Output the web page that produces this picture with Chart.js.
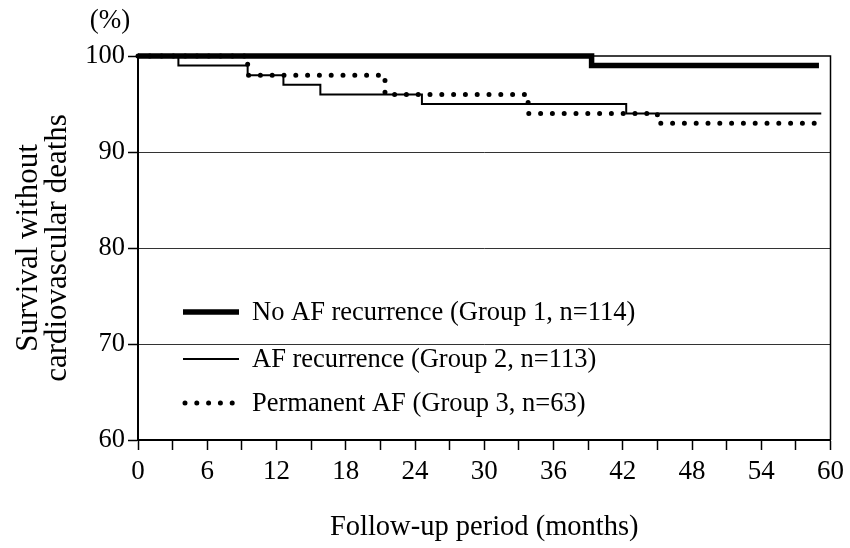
<!DOCTYPE html>
<html>
<head>
<meta charset="utf-8">
<script src="https://cdn.jsdelivr.net/npm/chart.js@4.4.1/dist/chart.umd.min.js"></script>
<style>
  html, body { margin: 0; padding: 0; background: #fff; }
  #wrap { width: 850px; height: 548px; }
</style>
</head>
<body>
<div id="wrap"><canvas id="survivalChart" width="850" height="548"></canvas></div>
<script>
// Kaplan-Meier style curves (months, % survival)
const groupLabels = [
  'No AF recurrence (Group 1, n=114)',
  'AF recurrence (Group 2, n=113)',
  'Permanent AF (Group 3, n=63)'
];
const group1Months = [0, 39.3, 59.0];
const group1Surv = [100, 99, 99];
const group2Months = [0, 3.5, 9.5, 12.6, 15.8, 24.6, 42.3, 59.2];
const group2Surv = [100, 99, 98, 97, 96, 95, 94, 94];
const group3Months = [0, 9.5, 21.4, 33.8, 45.0, 59.0];
const group3Surv = [100, 98, 96, 94, 93, 93];

const yTicks = [60, 70, 80, 90, 100];
const xTickStep = 3;
const xLabelStep = 6;

const SERIF = '"Liberation Serif", "DejaVu Serif", serif';

const toPoints = (xs, ys) => xs.map((x, i) => ({ x, y: ys[i] }));

const lineStyles = [
  { borderWidth: 5.5, borderDash: [], borderCapStyle: 'butt' },
  { borderWidth: 2, borderDash: [], borderCapStyle: 'butt' },
  { borderWidth: 5, borderDash: [0, 11.8], borderCapStyle: 'round' }
];

const datasets = [
  toPoints(group1Months, group1Surv),
  toPoints(group2Months, group2Surv),
  toPoints(group3Months, group3Surv)
].map((data, i) => ({
  label: groupLabels[i],
  data,
  borderColor: '#000',
  stepped: 'before',
  pointRadius: 0,
  tension: 0,
  fill: false,
  clip: 8,
  ...lineStyles[i]
}));

// frame on top/right, "(%)" marker and the in-plot legend
const decorPlugin = {
  id: 'decor',
  afterDatasetsDraw(chart) {
    const { ctx, chartArea: a } = chart;
    ctx.save();
    ctx.strokeStyle = '#000';
    ctx.lineWidth = 1.5;
    ctx.beginPath();
    ctx.moveTo(a.left, a.top);
    ctx.lineTo(a.right, a.top);
    ctx.lineTo(a.right, a.bottom);
    ctx.stroke();

    ctx.fillStyle = '#000';
    ctx.font = '27px ' + SERIF;
    ctx.textAlign = 'center';
    ctx.textBaseline = 'middle';
    ctx.fillText('(%)', 110, 21);

    const rows = [312, 359, 403];
    ctx.textAlign = 'left';
    ctx.font = '26.5px ' + SERIF;
    chart.data.datasets.forEach((ds, i) => {
      const y = rows[i];
      ctx.lineWidth = ds.borderWidth;
      ctx.setLineDash(ds.borderDash || []);
      ctx.lineCap = ds.borderCapStyle || 'butt';
      ctx.beginPath();
      ctx.moveTo(i === 2 ? 185 : 183, y);
      ctx.lineTo(239, y);
      ctx.stroke();
      ctx.setLineDash([]);
      ctx.fillText(ds.label, 252, y + 1);
    });
    ctx.restore();
  }
};

new Chart(document.getElementById('survivalChart'), {
  type: 'line',
  data: { datasets },
  plugins: [decorPlugin],
  options: {
    responsive: false,
    animation: false,
    layout: { padding: { left: 0, right: 19, top: 56, bottom: 0 } },
    plugins: { legend: { display: false }, tooltip: { enabled: false } },
    scales: {
      x: {
        type: 'linear',
        min: 0,
        max: 60,
        afterFit(scale) { scale.height = 108; },
        border: { display: true, color: '#000', width: 2 },
        grid: { drawOnChartArea: false, tickLength: 10, tickColor: '#000', tickWidth: 1.5 },
        ticks: {
          stepSize: xTickStep,
          autoSkip: false,
          maxRotation: 0,
          color: '#000',
          padding: 6,
          font: { family: SERIF, size: 27 },
          callback: v => (v % xLabelStep === 0 ? v : '')
        },
        title: {
          display: true,
          text: 'Follow-up period (months)',
          color: '#000',
          font: { family: SERIF, size: 28.5 },
          padding: { top: 0, bottom: 3 }
        }
      },
      y: {
        min: yTicks[0],
        max: yTicks[yTicks.length - 1],
        afterFit(scale) { scale.width = 138; },
        afterBuildTicks(scale) { scale.ticks = yTicks.map(v => ({ value: v })); },
        border: { display: true, color: '#000', width: 2 },
        grid: {
          color: c => (c.tick && c.tick.value > 60 && c.tick.value < 100 ? '#333' : 'rgba(0,0,0,0)'),
          borderDash: [1, 2],
          lineWidth: 1,
          tickLength: 10,
          tickColor: '#000',
          tickWidth: 1.5
        },
        ticks: {
          color: '#000',
          padding: 3,
          font: { family: SERIF, size: 26.5 }
        },
        title: {
          display: true,
          text: ['Survival without', 'cardiovascular deaths'],
          color: '#000',
          font: { family: SERIF, size: 31, lineHeight: 0.95 },
          padding: { top: 14, bottom: 0 }
        }
      }
    }
  }
});
</script>
</body>
</html>
